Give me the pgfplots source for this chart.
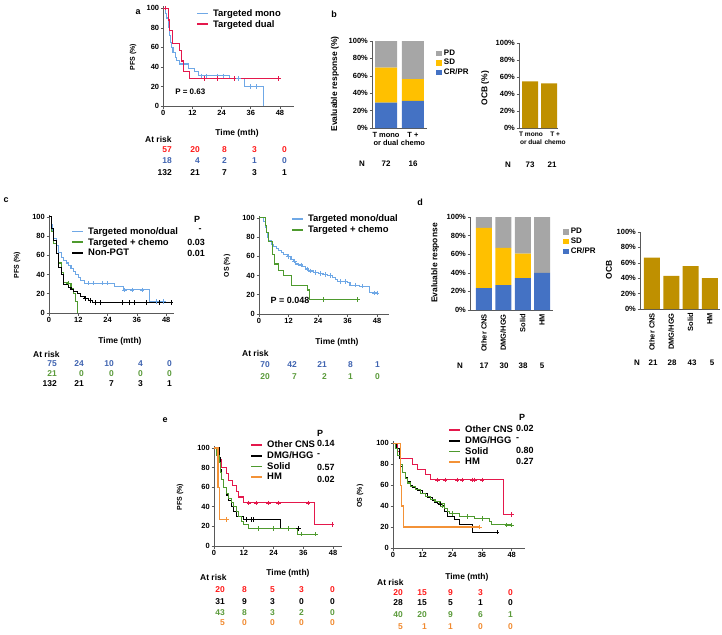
\documentclass[border=0pt]{standalone}
\usepackage{fontspec}
\setmainfont{Liberation Sans}
\usepackage{pgfplots}
\pgfplotsset{compat=1.18}

\definecolor{kmblue}{HTML}{6FA8E6}
\definecolor{kmred}{HTML}{E4184C}
\definecolor{kmgreen}{HTML}{4E9A2E}
\definecolor{kmorange}{HTML}{F39237}
\definecolor{txblue}{HTML}{3F63B0}
\definecolor{txred}{HTML}{FF1A1A}
\definecolor{txgreen}{HTML}{5A9A3A}
\definecolor{txorange}{HTML}{F08A30}
\definecolor{bgray}{HTML}{A6A6A6}
\definecolor{byellow}{HTML}{FFC000}
\definecolor{bblue}{HTML}{4472C4}
\definecolor{bgold}{HTML}{BF9000}
\definecolor{axgray}{HTML}{595959}

\pgfplotsset{
  base/.style={scale only axis, anchor=south west, axis lines=left,
    axis line style={-, axgray, line width=0.8pt},
    tick align=outside, major tick length=2.5bp, tick style={axgray, line width=0.6pt},
    /pgf/number format/assume math mode=true,
    ticklabel style={font=\bfseries\fontsize{7.5}{8.5}\selectfont, inner sep=1.5bp},
    clip=false},
  km/.style={base, xmin=0, ymin=0, ymax=102, xtick={0,12,24,36,48}, ytick={0,20,40,60,80,100},
    xlabel={Time (mth)}, xlabel style={font=\bfseries\fontsize{8.5}{9}\selectfont, anchor=center},
    ylabel style={font=\bfseries\fontsize{7}{8}\selectfont, anchor=center},
    legend cell align=left,
    legend style={draw=none, fill=none, font=\bfseries\fontsize{9.5}{10}\selectfont, anchor=north west,
      nodes={inner sep=1.2bp}, row sep=0pt, /tikz/every odd column/.append style={column sep=3bp}},
    legend image code/.code={\draw[##1, line width=1.8pt] (0bp,0bp) -- (11bp,0bp);}},
  curve/.style={const plot, line width=1.1pt, #1},
  cens/.style={only marks, mark=+, mark size=2.2bp, mark options={line width=0.5pt}, #1, forget plot},
  bars/.style={base, ymin=0, ymax=100, ytick={0,20,40,60,80,100},
    yticklabel={\pgfmathprintnumber{\tick}\%}, xtick style={draw=none},
    ylabel style={font=\bfseries\fontsize{8.5}{9}\selectfont, anchor=center},
    legend cell align=left,
    legend style={draw=none, fill=none, font=\bfseries\fontsize{8}{9}\selectfont, anchor=north west,
      nodes={inner sep=1.3bp}, row sep=0pt, /tikz/every odd column/.append style={column sep=1bp}}},
  sqleg/.style={legend image code/.code={\fill[##1,/tikz/.cd] (0bp,-2.7bp) rectangle (5.4bp,2.7bp);}},
}
\tikzset{
  rk/.style={font=\bfseries\fontsize{8.5}{9}\selectfont, anchor=east, inner sep=0pt},
  lb/.style={font=\bfseries\fontsize{8.5}{9}\selectfont, anchor=west, inner sep=0pt},
  tx/.style={font=\bfseries\fontsize{9}{10}\selectfont, inner sep=0pt},
  let/.style={font=\bfseries\fontsize{9}{10}\selectfont, inner sep=0pt},
}

\begin{document}
\begin{tikzpicture}
\useasboundingbox (0,0) rectangle (722bp,-635bp);

% ---------------- panel a ----------------
\begin{axis}[km, at={(163.3bp,-106bp)}, width=131.2bp, height=99.7bp, xmax=54,
  ylabel={PFS (\%)}, ylabel style={at={(axis description cs:-0.231,0.491)}},
  xlabel style={at={(axis description cs:0.562,-0.271)}},
  legend style={at={(axis description cs:0.226,1.003)}}]
\addplot[curve=kmblue] coordinates {(0,100) (1,95) (1.5,90) (2,80) (2.5,72) (3,65) (3.5,60) (4,55) (5,50) (5.5,47) (6.5,43) (10.3,38) (13,35) (14.5,31) (27.3,28) (33.6,20) (41.2,0)};
\addlegendentry{Targeted mono}
\addplot[curve=kmred] coordinates {(0,100) (2,88) (2.5,77) (3.8,64) (6.6,57) (7.5,46) (8.2,35) (10.7,28) (47.5,28)};
\addlegendentry{Targeted dual}
\addplot[cens=kmblue] coordinates {(15.5,31) (17.8,31) (22,31) (24.7,31) (31,28) (35.7,20) (38.4,20)};
\addplot[cens=kmred] coordinates {(1,100) (17,28) (22,28) (29,28) (47.5,28)};
\node[anchor=west, font=\bfseries\fontsize{8}{9}\selectfont] at (axis cs:3.5,14.5) {P = 0.63};
\end{axis}

% ---------------- panel b stacked ----------------
\begin{axis}[bars, at={(372bp,-128bp)}, width=55bp, height=87bp, ybar stacked, bar width=22bp,
  xmin=-0.52, xmax=1.52, xtick={0,1}, xticklabels={{T mono\\or dual},{T +\\chemo}},
  xticklabel style={align=center, font=\bfseries\fontsize{7.5}{8.5}\selectfont},
  ylabel={Evaluable response (\%)}, ylabel style={at={(axis description cs:-0.673,0.506)}},
  legend style={at={(axis description cs:1.11,0.94)}}, reverse legend]
\addplot[fill=bblue, draw=none, sqleg] coordinates {(0,29.2) (1,31.25)};
\addlegendentry{CR/PR}
\addplot[fill=byellow, draw=none, sqleg] coordinates {(0,40.3) (1,25)};
\addlegendentry{SD}
\addplot[fill=bgray, draw=none, sqleg] coordinates {(0,30.5) (1,43.75)};
\addlegendentry{PD}
\end{axis}

% ---------------- panel b OCB ----------------
\begin{axis}[bars, at={(519bp,-128bp)}, width=39bp, height=85bp, ybar, bar width=16bp,
  xmin=-0.58, xmax=1.47, xtick={0.05,1.32}, xticklabels={{T mono\\or dual},{T +\\chemo}},
  xticklabel style={align=center, font=\bfseries\fontsize{6.6}{7.6}\selectfont},
  ylabel={OCB (\%)}, ylabel style={at={(axis description cs:-0.87,0.47)}}]
\addplot[fill=bgold, draw=none] coordinates {(0,54.8) (1,52.4)};
\end{axis}

% ---------------- panel c left ----------------
\begin{axis}[km, at={(49bp,-313bp)}, width=125bp, height=98bp, xmax=51.2,
  ylabel={PFS (\%)}, ylabel style={at={(axis description cs:-0.256,0.49)}},
  xlabel style={at={(axis description cs:0.568,-0.286)}},
  legend style={at={(axis description cs:0.152,0.908)}}]
\addplot[curve=kmblue] coordinates {(0,100) (1,92) (1.5,85) (2,78) (3,70) (4,63) (5,58) (6,55) (7,52) (8,49) (9,46) (10,43) (11,40) (12,37) (13,34) (14.5,31) (27,28) (30.5,24) (41,12) (48,12)};
\addlegendentry{Targeted mono/dual}
\addplot[curve=kmgreen] coordinates {(0,100) (1,85) (2,72) (3,62) (4,52) (5,42) (6,32) (8,31) (9,25) (10,20) (11,12) (11.8,0)};
\addlegendentry{Targeted + chemo}
\addplot[curve=black] coordinates {(0,100) (1,88) (2,75) (3,62) (4,47) (5,40) (6,30) (8,27) (9,24) (10,22) (11.5,20) (13,17) (14.5,15) (16,13) (18,11) (50,11)};
\addlegendentry{Non-PGT}
\addplot[cens=kmblue] coordinates {(16,31) (18,31) (22,31) (24,31) (31,24) (34,24) (38,24) (44,12) (47,12)};
\addplot[cens=kmgreen] coordinates {(8,31)};
\addplot[cens=black] coordinates {(15,15) (17,13) (19,11) (21,11) (30,11) (33,11) (35,11) (40,11) (45,11) (50,11)};
\end{axis}

% ---------------- panel c right ----------------
\begin{axis}[km, at={(259bp,-314bp)}, width=130.4bp, height=98bp, xmax=53,
  ylabel={OS (\%)}, ylabel style={at={(axis description cs:-0.245,0.49)}},
  xlabel style={at={(axis description cs:0.598,-0.286)}},
  legend style={at={(axis description cs:0.222,1.046)}}]
\addplot[curve=kmblue] coordinates {(0,100) (2,96) (2.5,90) (3,85) (3.5,80) (4,76) (5,72) (6,70) (7,68) (8,66) (9,64) (10,62) (11.5,60) (13,57) (14,55) (15,52) (16,51) (17.5,49) (19,47) (20,45) (22,43) (24,42) (26,41) (28,40) (30,38) (31,36) (32,34) (36,33) (37,30) (41,29) (45,22) (48,22)};
\addlegendentry{Targeted mono/dual}
\addplot[curve=kmgreen] coordinates {(0,100) (2.5,92) (3,85) (4,75) (5.5,62) (6.4,52) (7.8,45) (9.8,40) (13.2,30) (19.6,25) (20.7,15) (40,15)};
\addlegendentry{Targeted + chemo}
\addplot[cens=kmblue] coordinates {(12,60) (14.5,55) (17,51) (19.5,47) (21,45) (23,43) (25,42) (27,41) (29,40) (33,34) (35,34) (39,30) (42,29) (47,22) (48,22)};
\addplot[cens=kmgreen] coordinates {(26,15) (40,15)};
\node[anchor=west, font=\bfseries\fontsize{9}{10}\selectfont] at (axis cs:3.3,14.6) {P = 0.048};
\end{axis}

% ---------------- panel d stacked ----------------
\begin{axis}[bars, at={(470bp,-310bp)}, width=83bp, height=93bp, ybar stacked, bar width=16bp,
  xmin=-0.72, xmax=3.56, xtick={0,1,2,3}, xticklabels={Other CNS,DMG/HGG,Solid,HM},
  xticklabel style={rotate=90, anchor=east, font=\bfseries\fontsize{7.5}{8.5}\selectfont},
  ylabel={Evaluable response}, ylabel style={at={(axis description cs:-0.42,0.505)}},
  legend style={at={(axis description cs:1.084,0.914)}}, reverse legend]
\addplot[fill=bblue, draw=none, sqleg] coordinates {(0,23.5) (1,26.7) (2,34.2) (3,40)};
\addlegendentry{CR/PR}
\addplot[fill=byellow, draw=none, sqleg] coordinates {(0,64.7) (1,40) (2,26.3) (3,0)};
\addlegendentry{SD}
\addplot[fill=bgray, draw=none, sqleg] coordinates {(0,11.8) (1,33.3) (2,39.5) (3,60)};
\addlegendentry{PD}
\end{axis}

% ---------------- panel d OCB ----------------
\begin{axis}[bars, at={(640bp,-309bp)}, width=79.5bp, height=77bp, ybar, bar width=16bp,
  xmin=-0.62, xmax=3.5, xtick={0,1,2,3}, xticklabels={Other CNS,DMG/HGG,Solid,HM},
  xticklabel style={rotate=90, anchor=east, font=\bfseries\fontsize{7.5}{8.5}\selectfont},
  ylabel={OCB}, ylabel style={at={(axis description cs:-0.39,0.506)}}]
\addplot[fill=bgold, draw=none] coordinates {(0,66.7) (1,42.9) (2,55.8) (3,40)};
\end{axis}

% ---------------- panel e left ----------------
\begin{axis}[km, at={(214bp,-546bp)}, width=128bp, height=100bp, xmax=51.6,
  ylabel={PFS (\%)}, ylabel style={at={(axis description cs:-0.266,0.49)}},
  xlabel style={at={(axis description cs:0.578,-0.27)}},
  legend style={at={(axis description cs:0.258,1.085)}}]
\addplot[curve=kmred] coordinates {(0,100) (1.5,92) (2,88) (3,80) (5,74) (6,67) (7.5,62) (9,56) (10,50) (12,44) (40.4,22) (47.6,22)};
\addlegendentry{Other CNS}
\addplot[curve=black] coordinates {(0,100) (2,90) (2.5,78) (3,68) (4,60) (5,52) (6,46) (7,40) (8,35) (9,30) (12,27) (26.9,18) (34,18)};
\addlegendentry{DMG/HGG}
\addplot[curve=kmgreen] coordinates {(0,100) (1,92) (2,85) (2.5,75) (3,68) (4,60) (5,54) (6,48) (7,44) (8,40) (9,35) (10,30) (11,25) (12,22) (14,18) (33.6,12) (41,12)};
\addlegendentry{Solid}
\addplot[curve=kmorange] coordinates {(0,100) (1.6,60) (2.3,27) (5,27)};
\addlegendentry{HM}
\addplot[cens=kmred] coordinates {(14,44) (17,44) (22,44) (26,44) (38,44) (47.6,22)};
\addplot[cens=black] coordinates {(13,27) (15,27) (16,27) (34,18)};
\addplot[cens=kmgreen] coordinates {(18,18) (24,18) (30,18) (35,12) (41,12)};
\addplot[cens=kmorange] coordinates {(5,27)};
\end{axis}

% ---------------- panel e right ----------------
\begin{axis}[km, at={(393bp,-548bp)}, width=132bp, height=107bp, xmax=53.4,
  ylabel={OS (\%)}, ylabel style={at={(axis description cs:-0.25,0.486)}},
  xlabel style={at={(axis description cs:0.56,-0.271)}},
  legend style={at={(axis description cs:0.394,1.173)}}]
\addplot[curve=kmred] coordinates {(0,100) (2,92) (3,85) (7.8,80) (10,75) (13,70) (15,65) (44.6,32) (48,32)};
\addlegendentry{Other CNS}
\addplot[curve=black] coordinates {(0,100) (1.5,95) (2.5,85) (3,78) (4,72) (5,67) (6,63) (7,60) (8,58) (9,57) (10,55) (12,52) (14,48) (16,45) (17,43) (18,42) (20,40) (21,35) (22,30) (25,27) (27,22) (32,15) (42,15)};
\addlegendentry{DMG/HGG}
\addplot[curve=kmgreen] coordinates {(0,100) (1,95) (2,88) (3,80) (4,72) (5,66) (6,62) (7,59) (9,56) (11,52) (13,49) (15,46) (17,44) (19,42) (21,38) (22,35) (23,33) (27,30) (33,28) (39,25) (40,22) (48,22)};
\addlegendentry{Solid}
\addplot[curve=kmorange] coordinates {(0,100) (3,60) (3.5,40) (4.3,20) (35,20)};
\addlegendentry{HM}
\addplot[cens=kmred] coordinates {(18,65) (21,65) (26,65) (28,65) (32,65) (33,65) (36,65) (48,32)};
\addplot[cens=black] coordinates {(19,42) (42,15)};
\addplot[cens=kmgreen] coordinates {(20,40) (24,33) (30,30) (36,28) (46,22) (48,22)};
\addplot[cens=kmorange] coordinates {(35,20)};
\end{axis}

% ---------------- text: letters ----------------
\node[let] at (138bp,-12bp) {a};
\node[let] at (334bp,-14bp) {b};
\node[let] at (6bp,-200bp) {c};
\node[let] at (420bp,-202bp) {d};
\node[let] at (165bp,-420bp) {e};

% panel a at risk
\node[lb] at (145bp,-139bp) {At risk};
\foreach \x/\v in {172/57,200/20,227/8,257/3,287/0} \node[rk, txred] at (\x bp,-150bp) {\v};
\foreach \x/\v in {172/18,200/4,227/2,257/1,287/0} \node[rk, txblue] at (\x bp,-161bp) {\v};
\foreach \x/\v in {172/132,200/21,227/7,257/3,287/1} \node[rk] at (\x bp,-173bp) {\v};

% panel b N rows
\foreach \x/\v in {362/N,386/72,413/16} \node[tx, font=\bfseries\fontsize{8}{9}\selectfont] at (\x bp,-164bp) {\v};
\foreach \x/\v in {508/N,530/73,552/21} \node[tx, font=\bfseries\fontsize{8}{9}\selectfont] at (\x bp,-165bp) {\v};

% panel c left
\node[tx] at (197bp,-219bp) {P};
\node[tx] at (200bp,-230bp) {-};
\node[tx, anchor=east] at (205bp,-242bp) {0.03};
\node[tx, anchor=east] at (205bp,-253bp) {0.01};
\node[lb] at (33bp,-354bp) {At risk};
\foreach \x/\v in {57/75,84/24,114/10,143/4,172/0} \node[rk, txblue] at (\x bp,-364bp) {\v};
\foreach \x/\v in {57/21,84/0,114/0,143/0,172/0} \node[rk, txgreen] at (\x bp,-374bp) {\v};
\foreach \x/\v in {57/132,84/21,114/7,143/3,172/1} \node[rk] at (\x bp,-384bp) {\v};

% panel c right
\node[lb] at (242bp,-353bp) {At risk};
\foreach \x/\v in {270/70,297/42,327/21,353/8,380/1} \node[rk, txblue] at (\x bp,-365bp) {\v};
\foreach \x/\v in {270/20,297/7,327/2,353/1,380/0} \node[rk, txgreen] at (\x bp,-377bp) {\v};

% panel d N rows
\foreach \x/\v in {460/N,484/17,504/30,523/38,542/5} \node[tx, font=\bfseries\fontsize{8}{9}\selectfont] at (\x bp,-366bp) {\v};
\foreach \x/\v in {637/N,653/21,672/28,692/43,712/5} \node[tx, font=\bfseries\fontsize{8}{9}\selectfont] at (\x bp,-363bp) {\v};

% panel e left
\node[tx] at (320bp,-433bp) {P};
\foreach \y/\v in {443/0.14,455/-,467/0.57,479/0.02} \node[tx, anchor=west] at (317bp,-\y bp) {\v};
\node[lb] at (200bp,-577bp) {At risk};
\foreach \x/\v in {225/20,247/8,275/5,304/3,335/0} \node[rk, txred] at (\x bp,-590bp) {\v};
\foreach \x/\v in {225/31,247/9,275/3,304/0,335/0} \node[rk] at (\x bp,-602bp) {\v};
\foreach \x/\v in {225/43,247/8,275/3,304/2,335/0} \node[rk, txgreen] at (\x bp,-613bp) {\v};
\foreach \x/\v in {225/5,247/0,275/0,304/0,335/0} \node[rk, txorange] at (\x bp,-623bp) {\v};

% panel e right
\node[tx] at (522bp,-417bp) {P};
\foreach \y/\v in {428/0.02,439/-,450/0.80,461/0.27} \node[tx, anchor=west] at (516bp,-\y bp) {\v};
\node[lb] at (377bp,-582bp) {At risk};
\foreach \x/\v in {403/20,427/15,453/9,483/3,513/0} \node[rk, txred] at (\x bp,-593bp) {\v};
\foreach \x/\v in {403/28,427/15,453/5,483/1,513/0} \node[rk] at (\x bp,-603bp) {\v};
\foreach \x/\v in {403/40,427/20,453/9,483/6,513/1} \node[rk, txgreen] at (\x bp,-615bp) {\v};
\foreach \x/\v in {403/5,427/1,453/1,483/0,513/0} \node[rk, txorange] at (\x bp,-627bp) {\v};
\end{tikzpicture}
\end{document}
